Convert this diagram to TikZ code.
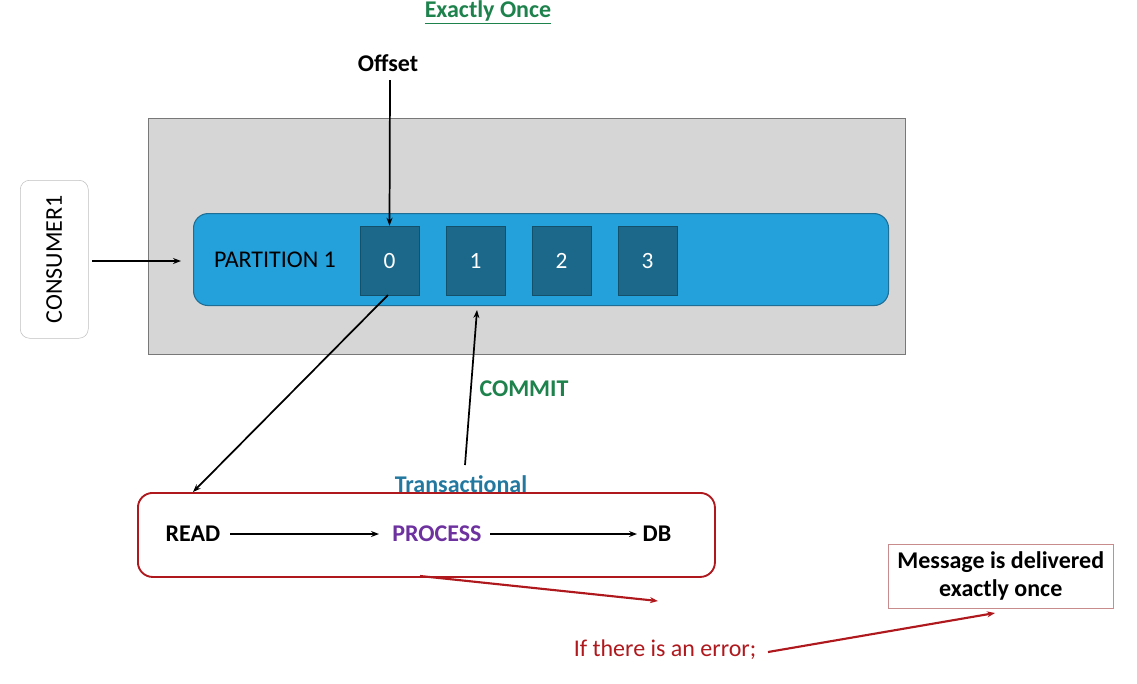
\documentclass[tikz,border=0pt]{standalone}
\usepackage{fontspec}
\setmainfont{Carlito}
\usetikzlibrary{arrows.meta,calc}
\definecolor{ttlgreen}{RGB}{30,130,76}
\definecolor{grayfill}{RGB}{214,214,214}
\definecolor{grayline}{RGB}{120,120,120}
\definecolor{partblue}{RGB}{36,160,218}
\definecolor{partline}{RGB}{30,110,150}
\definecolor{cellblue}{RGB}{27,104,138}
\definecolor{cellline}{RGB}{20,80,105}
\definecolor{darkred}{RGB}{175,25,30}
\definecolor{transblue}{RGB}{35,120,160}
\definecolor{procpurple}{RGB}{110,50,160}
\definecolor{lightred}{RGB}{200,140,140}
\begin{document}
\begin{tikzpicture}[x=0.75pt,y=-0.75pt,
  cell/.style={draw=cellline,fill=cellblue,minimum width=59*0.75pt,minimum height=69*0.75pt,inner sep=0pt,text=white,font=\fontsize{17.5}{21}\selectfont},
  arr/.style={-{Stealth[length=6pt,width=4.5pt]},line width=1.3pt},
  rarr/.style={-{Stealth[length=6pt,width=4.5pt]},line width=1.6pt,darkred},
  lbl/.style={font=\fontsize{18}{21}\selectfont\bfseries,inner sep=1pt}]
\useasboundingbox (0,0) rectangle (1137,683);
\node[lbl,text=ttlgreen] (title) at (488,12) {\underline{Exactly Once}};
\node[lbl] (offset) at (388,63) {Offset};
\node[draw=grayline,fill=grayfill,minimum width=757*0.75pt,minimum height=236*0.75pt,inner sep=0pt,anchor=north west] (gray) at (148,118) {};
\node[draw=black!25,fill=white,rounded corners=7pt,minimum width=68*0.75pt,minimum height=158*0.75pt,inner sep=0pt,anchor=north west] (cons) at (20,180) {};
\node[rotate=90,font=\fontsize{18}{21}\selectfont] (constext) at (cons.center) {CONSUMER1};
\node[draw=partline,fill=partblue,rounded corners=11pt,minimum width=695*0.75pt,minimum height=92*0.75pt,inner sep=0pt,anchor=north west,line width=0.8pt] (part) at (193,213) {};
\node[font=\fontsize{18}{21}\selectfont] (ptext) at (275,260) {PARTITION 1};
\node[cell] (c0) at (389.5,260.5) {0};
\node[cell] (c1) at (475.5,260.5) {1};
\node[cell] (c2) at (561.5,260.5) {2};
\node[cell] (c3) at (647.5,260.5) {3};
\coordinate (cout) at (92,261);
\coordinate (cin) at (181,261);
\draw[arr] (cout) -- (cin);
\coordinate (offs) at (390,80);
\draw[arr] (offs) -- (c0.north);
\node[draw=darkred,rounded corners=11pt,minimum width=577*0.75pt,minimum height=84*0.75pt,inner sep=0pt,anchor=north west,line width=1.4pt,fill=white] (tx) at (137,492) {};
\node[lbl,text=transblue] (trans) at (461,484) {Transactional};
\coordinate (c0b) at (388,295);
\coordinate (rdin) at (193,492);
\draw[arr] (c0b) -- (rdin);
\coordinate (cmt) at (465,465);
\coordinate (cmtend) at (477,310);
\draw[arr] (cmt) -- (cmtend);
\node[lbl,text=ttlgreen] (commit) at (524,389) {COMMIT};
\node[lbl] (read) at (193,534) {READ};
\node[lbl,text=procpurple] (proc) at (437,534) {PROCESS};
\node[lbl] (db) at (657,534) {DB};
\coordinate (a1s) at (230,534);
\coordinate (a1e) at (379,534);
\coordinate (a2s) at (490,534);
\coordinate (a2e) at (637,534);
\draw[arr] (a1s) -- (a1e);
\draw[arr] (a2s) -- (a2e);
\node[font=\fontsize{18}{21}\selectfont,text=darkred] (err) at (665,650) {If there is an error;};
\node[draw=lightred,fill=white,minimum width=225*0.75pt,minimum height=64*0.75pt,inner sep=0pt,anchor=north west] (msg) at (888,544) {};
\node[lbl,align=center] (msgt) at (msg.center) {Message is delivered\\exactly once};
\coordinate (t1) at (420,576);
\coordinate (t2) at (658,601);
\draw[rarr] (t1) -- (t2);
\coordinate (e1) at (768,652);
\coordinate (e2) at (995,613);
\draw[rarr] (e1) -- (e2);
\end{tikzpicture}
\end{document}
